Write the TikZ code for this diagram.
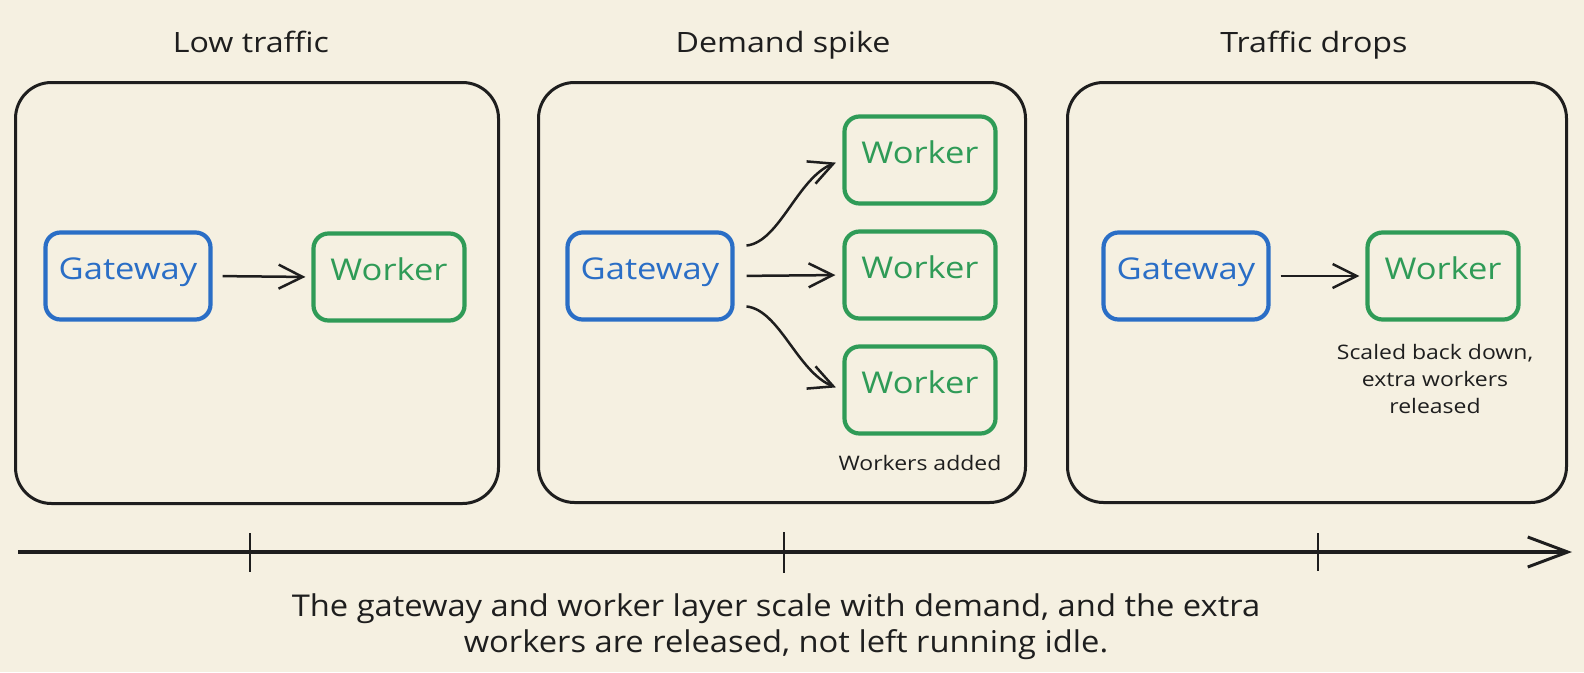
\documentclass[tikz,border=0pt]{standalone}
\usepackage{fontspec}
\setmainfont{Open Sans}
\newfontfamily\handfont[FakeStretch=1.15]{Open Sans}
\newfontfamily\notefont[FakeStretch=1.09]{Open Sans}
\usetikzlibrary{arrows.meta}
\definecolor{bgc}{HTML}{F5F0E1}
\definecolor{ink}{HTML}{1E1E1E}
\definecolor{gwblue}{HTML}{2A6EC6}
\definecolor{wkgreen}{HTML}{2F9B57}
\begin{document}
\begin{tikzpicture}[x=1pt,y=-1pt,
  panel/.style={draw=ink, line width=3pt, rounded corners=36pt, inner sep=0pt},
  titletext/.style={anchor=base, inner sep=0pt, text=ink, font=\handfont\fontsize{28}{34}\selectfont},
  boxbase/.style={line width=4.2pt, rounded corners=15pt, minimum width=165pt, minimum height=87pt,
     inner sep=0pt, text height=0.714em, text depth=0pt, font=\handfont\fontsize{30}{36}\selectfont},
  gwbox/.style={boxbase, draw=gwblue, text=gwblue},
  wkbox/.style={boxbase, draw=wkgreen, text=wkgreen, minimum width=151pt},
  notetext/.style={inner sep=0pt, text=ink, align=center, font=\handfont\fontsize{20}{27}\selectfont},
  flow/.style={draw=ink, line width=2.5pt, -{Straight Barb[length=24pt,width=24pt,line width=2.5pt]}},
  axis/.style={draw=ink, line width=3.2pt, -{Straight Barb[length=40pt,width=30pt,line width=3pt]}},
  tick/.style={draw=ink, line width=2.2pt},
  captext/.style={anchor=base, inner sep=0pt, text=ink, font=\notefont\fontsize{30}{36}\selectfont}
]
\fill[bgc] (0,0) rectangle (1584,672);
\useasboundingbox (0,0) rectangle (1584,672);

% titles
\node[titletext] (t1) at (251,52) {Low traffic};
\node[titletext] (t2) at (783,52) {Demand spike};
\node[titletext] (t3) at (1314,52) {Traffic drops};

% panels
\node[panel, minimum width=483pt, minimum height=421pt] (f1) at (257,293) {};
\node[panel, minimum width=487pt, minimum height=420pt] (f2) at (782,292.5) {};
\node[panel, minimum width=499pt, minimum height=420pt] (f3) at (1317,292.5) {};

% panel 1
\node[gwbox] (g1) at (128,276) {Gateway};
\node[wkbox] (w1) at (389,277) {Worker};
\draw[flow, shorten <=10pt, shorten >=6pt] (g1.east) -- (w1.west);

% panel 2
\node[gwbox] (g2) at (650,276) {Gateway};
\node[wkbox] (w2a) at (920,160) {Worker};
\node[wkbox] (w2b) at (920,275) {Worker};
\node[wkbox] (w2c) at (920,390) {Worker};
\draw[flow, shorten <=12pt, shorten >=7pt] (g2.19) .. controls +(45,-5) and +(-45,18) .. (w2a.west);
\draw[flow, shorten <=12pt, shorten >=7pt] (g2.east) -- (w2b.west);
\draw[flow, shorten <=12pt, shorten >=7pt] (g2.-19) .. controls +(45,5) and +(-45,-18) .. (w2c.west);
\node[notetext, anchor=base] (n2) at (920,470) {Workers added};

% panel 3
\node[gwbox] (g3) at (1186,276) {Gateway};
\node[wkbox] (w3) at (1443,276) {Worker};
\draw[flow, shorten <=10pt, shorten >=6pt] (g3.east) -- (w3.west);
\node[notetext, anchor=north] (n3) at (1435,344) {Scaled back down,\\extra workers\\released};

% timeline
\coordinate (a0) at (18,552);
\coordinate (a1) at (1572,552);
\draw[axis] (a0) -- (a1);
\coordinate (k1a) at (250,533); \coordinate (k1b) at (250,572);
\coordinate (k2a) at (784,532); \coordinate (k2b) at (784,573);
\coordinate (k3a) at (1318,533); \coordinate (k3b) at (1318,571);
\draw[tick] (k1a) -- (k1b);
\draw[tick] (k2a) -- (k2b);
\draw[tick] (k3a) -- (k3b);

% caption
\node[captext] (c1) at (776,616) {The gateway and worker layer scale with demand, and the extra};
\node[captext] (c2) at (786,652) {workers are released, not left running idle.};
\end{tikzpicture}
\end{document}
